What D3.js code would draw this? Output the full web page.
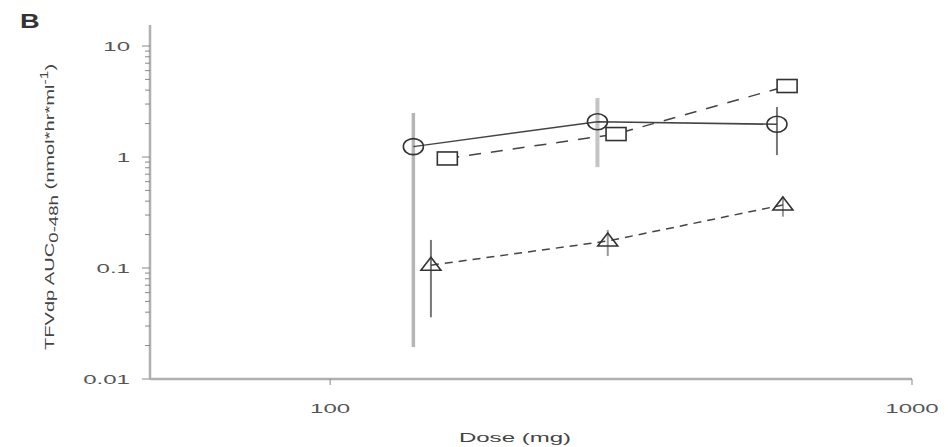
<!DOCTYPE html>
<html lang="en">
  <head>
    <meta charset="UTF-8" />
    <title>TFVdp AUC vs Dose</title>
    <script src="https://d3js.org/d3.v7.min.js"></script>
    <style>
      body {
        margin: 0;
        background-color: #fff;
        font-family: "Liberation Sans", Arial, sans-serif;
      }
      .tick-label {
        font-size: 13px;
        fill: #555;
      }
      .axis-title {
        font-size: 13px;
        fill: #444;
      }
    </style>
  </head>
  <body>
    <svg id="chart" width="948" height="447"></svg>
    <script>
      // Doses (mg) as plotted — the three groups are slightly offset horizontally
      const circleDose = [139, 288, 586];
      const squareDose = [159, 310, 610];
      const triangleDose = [149, 300, 600];

      // AUC values
      const circleAuc = [1.24, 2.08, 1.97];
      const squareAuc = [0.97, 1.61, 4.36];
      const triangleAuc = [0.106, 0.175, 0.37];

      // error bars (low, high)
      const circleLow = [0.0194, 0.81, 1.04];
      const circleHigh = [2.49, 3.4, 2.82];
      const triangleLow = [0.036, 0.128, 0.29];
      const triangleHigh = [0.179, 0.22, 0.44];

      const yTicks = [10, 1, 0.1, 0.01];
      const yTickLabels = ["10", "1", "0.1", "0.01"];
      const xTicks = [100, 1000];
      const xTickLabels = ["100", "1000"];

      const svg = d3.select("#chart");

      const x = d3.scaleLog().domain([50, 1000]).range([155, 912]);
      const y = d3.scaleLog().domain([0.01, 10]).range([379, 46]);

      const axisColor = "#b0b0b0";
      const stretch = 1.85; // the original lettering is wide

      // panel letter
      svg
        .append("text")
        .attr("transform", "translate(20,28) scale(1.3,1)")
        .style("font-size", "21px")
        .style("font-weight", "bold")
        .style("fill", "#333")
        .text("B");

      // y axis line
      svg
        .append("line")
        .attr("x1", 150)
        .attr("x2", 150)
        .attr("y1", 25)
        .attr("y2", y(0.01))
        .attr("stroke", axisColor)
        .attr("stroke-width", 2.5);

      // x axis line
      svg
        .append("line")
        .attr("x1", 150)
        .attr("x2", x(1000))
        .attr("y1", y(0.01))
        .attr("y2", y(0.01))
        .attr("stroke", axisColor)
        .attr("stroke-width", 2.5);

      // y minor ticks
      const minor = [];
      [0.01, 0.1, 1, 10].forEach((d) => {
        for (let k = 1; k <= 9; k++) {
          const v = d * k;
          if (v <= 15) minor.push(v);
        }
      });
      svg
        .selectAll(".ymin")
        .data(minor)
        .enter()
        .append("line")
        .attr("x1", (d) => (yTicks.includes(d) ? 142 : 145))
        .attr("x2", 150)
        .attr("y1", (d) => y(d))
        .attr("y2", (d) => y(d))
        .attr("stroke", "#888")
        .attr("stroke-width", 1);

      svg
        .selectAll(".ylab")
        .data(yTicks)
        .enter()
        .append("text")
        .attr("class", "tick-label")
        .attr("transform", (d) => `translate(130,${y(d) + 5}) scale(${stretch},1)`)
        .attr("text-anchor", "end")
        .text((d, i) => yTickLabels[i]);

      // x ticks
      svg
        .selectAll(".xt")
        .data(xTicks)
        .enter()
        .append("line")
        .attr("x1", (d) => x(d))
        .attr("x2", (d) => x(d))
        .attr("y1", y(0.01))
        .attr("y2", y(0.01) + 6)
        .attr("stroke", "#888")
        .attr("stroke-width", 1);

      svg
        .selectAll(".xlab")
        .data(xTicks)
        .enter()
        .append("text")
        .attr("class", "tick-label")
        .attr("transform", (d) => `translate(${x(d)},413) scale(${stretch},1)`)
        .attr("text-anchor", "middle")
        .text((d, i) => xTickLabels[i]);

      // axis titles
      svg
        .append("text")
        .attr("class", "axis-title")
        .attr("transform", `translate(515,442) scale(${stretch},1)`)
        .attr("text-anchor", "middle")
        .text("Dose (mg)");

      const yt = svg
        .append("text")
        .attr("class", "axis-title")
        .attr("transform", "translate(54,207) rotate(-90) scale(1.55,1)")
        .attr("text-anchor", "middle");
      yt.append("tspan").text("TFVdp AUC");
      yt.append("tspan").attr("dy", 4).style("font-size", "12px").text("0-48h");
      yt.append("tspan").attr("dy", -4).text(" (nmol*hr*ml");
      yt.append("tspan").attr("dy", -6).style("font-size", "10px").text("-1");
      yt.append("tspan").attr("dy", 6).text(")");

      // error bars
      const bar = (dose, low, high, color, width) => {
        svg
          .append("g")
          .selectAll("line")
          .data(dose)
          .enter()
          .append("line")
          .attr("x1", (d) => x(d))
          .attr("x2", (d) => x(d))
          .attr("y1", (d, i) => y(low[i]))
          .attr("y2", (d, i) => y(high[i]))
          .attr("stroke", (d, i) => color[i])
          .attr("stroke-width", (d, i) => width[i]);
      };
      bar(circleDose, circleLow, circleHigh, ["#b5b5b5", "#c4c4c4", "#777"], [3.5, 4, 2]);
      bar(triangleDose, triangleLow, triangleHigh, ["#777", "#999", "#999"], [2, 2, 2]);

      const line = d3
        .line()
        .x((d) => x(d[0]))
        .y((d) => y(d[1]));

      const addLine = (dose, auc, dash) => {
        svg
          .append("path")
          .datum(d3.zip(dose, auc))
          .attr("d", line)
          .attr("fill", "none")
          .attr("stroke", "#444")
          .attr("stroke-width", 1.5)
          .attr("stroke-dasharray", dash);
      };
      addLine(circleDose, circleAuc, null);
      addLine(squareDose, squareAuc, "12,10");
      addLine(triangleDose, triangleAuc, "8,6");

      // markers
      svg
        .selectAll(".circ")
        .data(d3.zip(circleDose, circleAuc))
        .enter()
        .append("ellipse")
        .attr("cx", (d) => x(d[0]))
        .attr("cy", (d) => y(d[1]))
        .attr("rx", 10)
        .attr("ry", 8)
        .attr("fill", "none")
        .attr("stroke", "#333")
        .attr("stroke-width", 1.6);

      svg
        .selectAll(".sq")
        .data(d3.zip(squareDose, squareAuc))
        .enter()
        .append("rect")
        .attr("x", (d) => x(d[0]) - 10)
        .attr("y", (d) => y(d[1]) - 6.5)
        .attr("width", 20)
        .attr("height", 13)
        .attr("fill", "#fff")
        .attr("stroke", "#333")
        .attr("stroke-width", 1.6);

      svg
        .selectAll(".tri")
        .data(d3.zip(triangleDose, triangleAuc))
        .enter()
        .append("path")
        .attr("transform", (d) => `translate(${x(d[0])},${y(d[1])})`)
        .attr("d", "M0,-8 L10,5 L-10,5 Z")
        .attr("fill", "none")
        .attr("stroke", "#333")
        .attr("stroke-width", 1.6);
    </script>
  </body>
</html>
